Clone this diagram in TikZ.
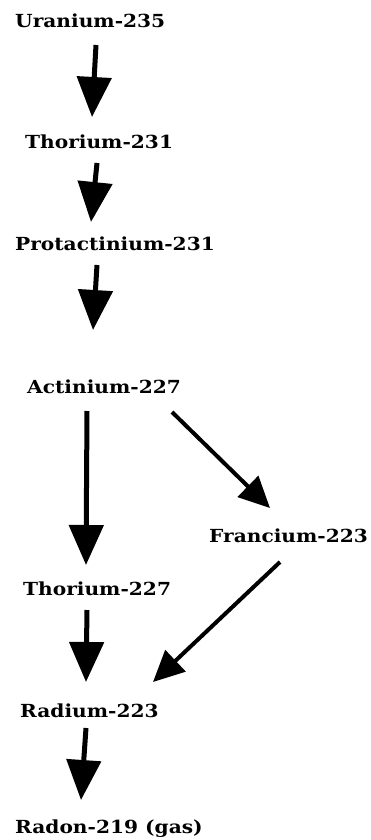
\documentclass[tikz,border=0pt]{standalone}
\usepackage{fontspec}
\setmainfont{DejaVu Serif}[BoldFont={DejaVu Serif Bold},BoldFeatures={FakeStretch=1.12}]
\usetikzlibrary{arrows.meta,calc}
\begin{document}
\begin{tikzpicture}[x=1pt,y=-1pt,
  iso/.style={anchor=base west,inner sep=0pt,font=\fontsize{18}{21}\selectfont\bfseries},
  bigdecay/.style={line width=5pt,-{Triangle[length=40pt,width=34pt]}},
  sidedecay/.style={line width=4pt,-{Triangle[length=31pt,width=29pt]}}]
\useasboundingbox (0,0) rectangle (370,840);
\node[iso] (u)  at (15,28)  {Uranium-235};
\node[iso] (t1) at (25,148) {Thorium-231};
\node[iso] (pa) at (15,250) {Protactinium-231};
\node[iso] (ac) at (27,393) {Actinium-227};
\node[iso] (fr) at (209,542) {Francium-223};
\node[iso] (t2) at (23,595) {Thorium-227};
\node[iso] (ra) at (20,717) {Radium-223};
\node[iso] (rn) at (15,833) {Radon-219 (gas)};
\draw[bigdecay] ($(u.base west)+(81,17)$) -- ($(t1.base west)+(67,-31)$);
\draw[bigdecay] ($(t1.base west)+(72,15)$) -- ($(pa.base west)+(76,-28)$);
\draw[bigdecay] ($(pa.base west)+(82,15)$) -- ($(ac.base west)+(66,-63)$);
\draw[bigdecay] ($(ac.base west)+(60,18)$) -- ($(t2.base west)+(63,-30)$);
\draw[sidedecay] ($(ac.base west)+(145,19)$) -- ($(fr.base west)+(61,-34)$);
\draw[bigdecay] ($(t2.base west)+(64,15)$) -- ($(ra.base west)+(66,-35)$);
\draw[sidedecay] ($(fr.base west)+(71,20)$) -- ($(ra.base west)+(133,-35)$);
\draw[bigdecay] ($(ra.base west)+(66,11)$) -- ($(rn.base west)+(66,-33)$);
\end{tikzpicture}
\end{document}
